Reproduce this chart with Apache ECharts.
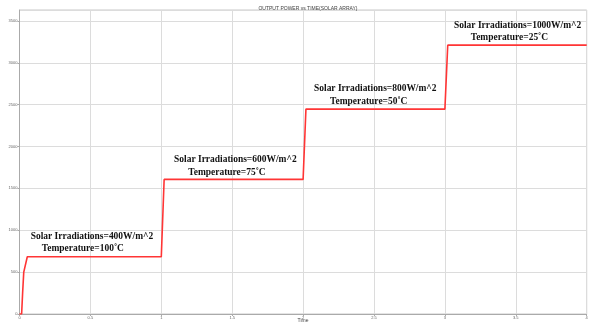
<!DOCTYPE html>
<html>
<head>
<meta charset="utf-8">
<script src="https://cdn.jsdelivr.net/npm/echarts@6/dist/echarts.min.js"></script>
<style>
  html, body { margin: 0; padding: 0; background: #fff; }
  #chart { width: 593px; height: 326px; }
</style>
</head>
<body>
<div id="chart"></div>
<script>
// Output power of the solar array over time (step changes in irradiation/temperature)
const timeValues  = [0, 0.015, 0.022, 0.03, 0.055, 1.0, 1.02, 2.0, 2.02, 3.0, 3.02, 4.0];
const powerValues = [0, 0,     250,   500,  684,   684, 1607, 1607, 2446, 2446, 3210, 3210];

// Annotation text, one entry per operating condition
const noteIrradiation = ['Solar Irradiations=400W/m^2', 'Solar Irradiations=600W/m^2',
                         'Solar Irradiations=800W/m^2', 'Solar Irradiations=1000W/m^2'];
const noteTemperature = ['Temperature=100˚C', 'Temperature=75˚C',
                         'Temperature=50˚C', 'Temperature=25˚C'];
// Anchor points (time, power) of the left edge of each text line
const irradAnchorT = [0.079, 1.090, 2.077, 3.064];
const irradAnchorP = [934, 1850, 2697, 3449];
const tempAnchorT  = [0.157, 1.190, 2.190, 3.182];
const tempAnchorP  = [784, 1691, 2542, 3302];

const chart = echarts.init(document.getElementById('chart'), null, { renderer: 'canvas' });

const seriesData = timeValues.map((t, i) => [t, powerValues[i]]);

chart.setOption({
  animation: false,
  backgroundColor: '#fff',
  title: [{
    text: 'OUTPUT POWER vs TIME(SOLAR ARRAY)',
    left: 303,
    top: 1,
    textAlign: 'center',
    textStyle: { fontSize: 5, fontWeight: 'normal', color: '#444', fontFamily: 'Liberation Sans' }
  }, {
    // x-axis caption under the tick labels
    text: 'Time',
    left: 303,
    top: 318,
    textAlign: 'center',
    padding: 0,
    textStyle: { fontSize: 5, fontWeight: 'normal', color: '#444', fontFamily: 'Liberation Sans' }
  }],
  grid: {
    left: 19.5, right: 6.3, top: 10, bottom: 12,
    outerBoundsMode: 'none',
    containLabel: false,
    show: true, borderColor: '#c8c8c8', borderWidth: 1
  },
  xAxis: {
    type: 'value', min: 0, max: 4, interval: 0.5,
    axisLine: { show: true, lineStyle: { color: '#aaa', width: 1 } },
    axisTick: { show: true, length: 2, lineStyle: { color: '#aaa' } },
    axisLabel: { fontSize: 4, color: '#666', margin: 2, fontFamily: 'Liberation Sans' },
    splitLine: { show: true, lineStyle: { color: '#dcdcdc', width: 1 } }
  },
  yAxis: {
    type: 'value', min: 0, max: 3630, interval: 500,
    axisLine: { show: true, lineStyle: { color: '#aaa', width: 1 } },
    axisTick: { show: true, length: 2, lineStyle: { color: '#aaa' } },
    axisLabel: {
      fontSize: 4, color: '#666', margin: 2, showMaxLabel: false,
      fontFamily: 'Liberation Sans',
      formatter: v => String(v)
    },
    splitLine: { show: true, lineStyle: { color: '#dcdcdc', width: 1 } }
  },
  series: [{
    type: 'line',
    data: seriesData,
    showSymbol: false,
    lineStyle: { color: '#ff3535', width: 1.6 },
    itemStyle: { color: '#ff3535' },
    z: 3
  }]
});

// Place the condition annotations through the chart's own coordinate system
function noteElement(text, t, p) {
  const pos = chart.convertToPixel({ gridIndex: 0 }, [t, p]);
  return {
    type: 'text',
    x: pos[0], y: pos[1],
    scaleX: 0.86,
    z: 10,
    style: {
      text: text,
      fill: '#111',
      font: 'bold 11px "Liberation Serif", "Times New Roman", serif',
      textAlign: 'left',
      textVerticalAlign: 'middle'
    }
  };
}

const notes = [];
for (let i = 0; i < noteIrradiation.length; i++) {
  notes.push(noteElement(noteIrradiation[i], irradAnchorT[i], irradAnchorP[i]));
  notes.push(noteElement(noteTemperature[i], tempAnchorT[i], tempAnchorP[i]));
}
chart.setOption({ graphic: notes });
</script>
</body>
</html>
